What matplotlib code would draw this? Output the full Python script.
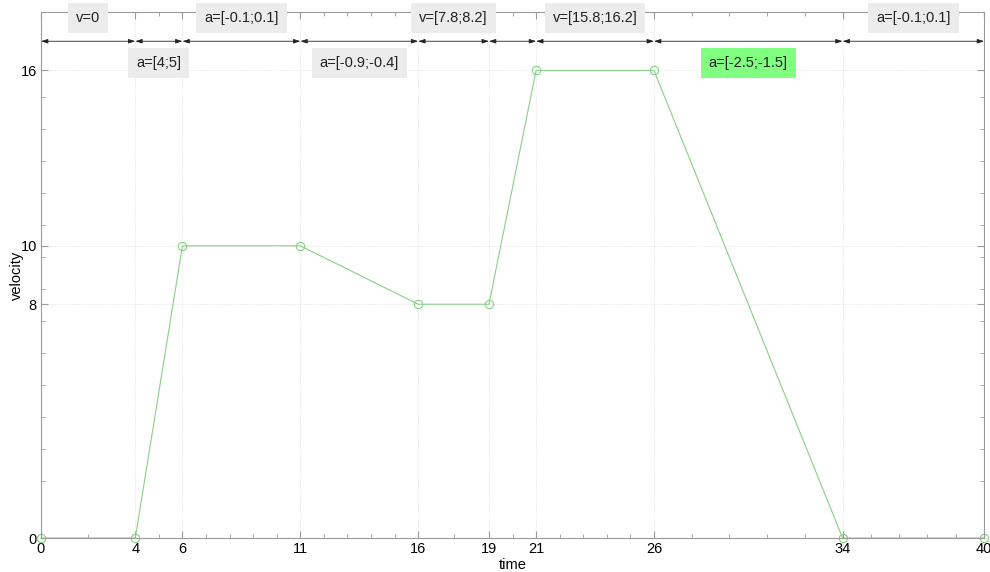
"""Velocity profile over time with the allowed range annotated on each segment."""

import numpy as np
import matplotlib
matplotlib.use("Agg")
import matplotlib.pyplot as plt

plt.rcParams["font.family"] = ["Liberation Sans", "DejaVu Sans"]

# profile breakpoints
time = [0, 4, 6, 11, 16, 19, 21, 26, 34, 40]
velocity = [0, 0, 10, 10, 8, 8, 16, 16, 0, 0]

# segment annotations: text, which row (top/bottom), highlighted
seg_labels = ["v=0", "a=[4;5]", "a=[-0.1;0.1]", "a=[-0.9;-0.4]", "v=[7.8;8.2]",
              "", "v=[15.8;16.2]", "a=[-2.5;-1.5]", "a=[-0.1;0.1]"]
seg_rows = ["top", "bottom", "top", "bottom", "top", "", "top", "bottom", "top"]
seg_highlight = [False, False, False, False, False, False, False, True, False]

yticks = [0, 8, 10, 16]

LINE_GREEN = "#88d088"
AXIS_GRAY = "#9a9a9a"


def minor_positions(majors):
    """Halve short intervals, split longer ones into five."""
    out = []
    for a, b in zip(majors[:-1], majors[1:]):
        n = 2 if b - a < 5 else 5
        out.extend(np.linspace(a, b, n + 1)[1:-1])
    return out


def main():
    fig = plt.figure(figsize=(9.9, 5.72), dpi=100)
    ax = fig.add_axes([0.0414, 0.0594, 0.9526, 0.9196])

    ax.plot(time, velocity, color=LINE_GREEN, lw=0.8, marker="o", ms=6,
            mfc="none", mec=LINE_GREEN, mew=0.8, clip_on=False, zorder=2)

    ax.set_xlim(0, 40)
    ax.set_ylim(0, 18)
    ax.set_xticks(time)
    ax.set_yticks(yticks)
    ax.set_xticks(minor_positions(time), minor=True)
    ax.set_yticks(np.arange(13) * 1.094 + 1.95, minor=True)

    ax.grid(True, which="major", color="#dddddd", ls=":", lw=0.6)
    for s in ax.spines.values():
        s.set_color(AXIS_GRAY)
        s.set_linewidth(0.8)
        s.set_zorder(2.5)
    ax.tick_params(which="both", direction="in", top=True, right=True,
                   color=AXIS_GRAY, labelsize=10.5, pad=3)
    ax.tick_params(which="major", length=5)
    ax.tick_params(which="minor", length=3)

    ax.set_xlabel("time", fontsize=10.5, labelpad=1)
    ax.set_ylabel("velocity", fontsize=10.5)
    ax.yaxis.set_label_coords(-0.018, 0.5)

    # double arrows spanning each segment and their range labels
    for i, (a, b) in enumerate(zip(time[:-1], time[1:])):
        ax.annotate("", xy=(a, 17.0), xytext=(b, 17.0),
                    arrowprops=dict(arrowstyle="<|-|>,head_length=0.4,head_width=0.13",
                                    color="#222222", lw=0.6,
                                    shrinkA=0, shrinkB=0),
                    annotation_clip=False)
        if not seg_labels[i]:
            continue
        y = 17.8 if seg_rows[i] == "top" else 16.27
        face = "#80ff80" if seg_highlight[i] else "#ececec"
        ax.text((a + b) / 2, y, seg_labels[i], ha="center", va="center",
                fontsize=10.5, color="#222222", zorder=5, clip_on=False,
                bbox=dict(boxstyle="square,pad=0.55", fc=face, ec="none"))

    fig.savefig("out.png", dpi=100)


if __name__ == "__main__":
    main()
